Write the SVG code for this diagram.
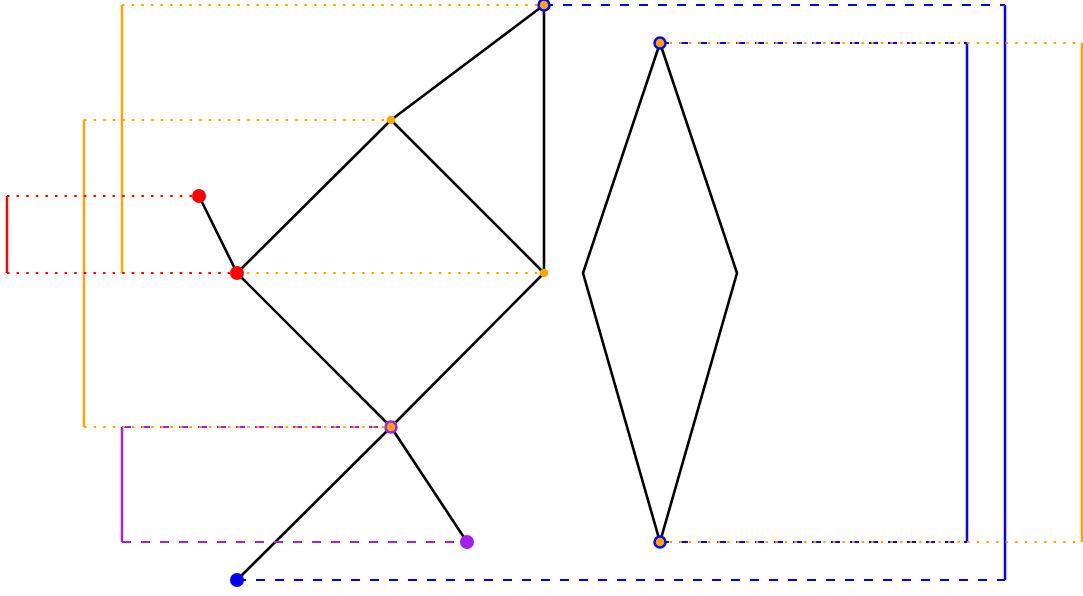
<svg xmlns="http://www.w3.org/2000/svg" width="1083" height="596" viewBox="0 0 1083 596">
<style>
.edge{stroke:#000;stroke-width:2.6;fill:none}
.or{stroke:#FFA500;stroke-width:2.5;fill:none}
.ord{stroke:#FFA500;stroke-width:2.2;stroke-dasharray:2.5,7.1;fill:none}
.rd{stroke:#FF0000;stroke-width:2.5;fill:none}
.rdd{stroke:#FF0000;stroke-width:2.2;stroke-dasharray:2.5,7.1;fill:none}
.bl{stroke:#0000FF;stroke-width:2.5;fill:none}
.bld{stroke:#0000FF;stroke-width:2.2;stroke-dasharray:9,10;fill:none}
.pu{stroke:#A020F0;stroke-width:2.5;fill:none}
.pud{stroke:#A020F0;stroke-width:2.2;stroke-dasharray:9,10;fill:none}
.nb{fill:#FFA500;stroke:#0000FF;stroke-width:2.5}
.np{fill:#FFA500;stroke:#A020F0;stroke-width:2.5}
</style>
<g id="connectors">
<path class="edge" d="M544,5L391,120M544,5L544,273M391,120L237,273M391,120L544,273M199,196L237,273M237,273L391,427M544,273L391,427M391,427L237,580M391,427L467,542"/>
<path class="edge" d="M660,43L737,273L660,542L583,273Z"/>
<path class="bld" d="M544,5H1005M237,580H1005"/>
<path class="bl" d="M1005,5V580"/>
<path class="bld" d="M660,43H967M660,542H967"/>
<path class="bl" d="M967,43V542"/>
<path class="ord" d="M660,43H1082M660,542H1082"/>
<path class="or" d="M1082,43V542"/>
<path class="pud" d="M122,427H391M122,542H467"/>
<path class="pu" d="M122,427V542"/>
<path class="ord" d="M122,5H544M122,273H544"/>
<path class="or" d="M122,5V273"/>
<path class="ord" d="M84,120H391M84,427H391"/>
<path class="or" d="M84,120V427"/>
<path class="rdd" d="M7,196H199M7,273H237"/>
<path class="rd" d="M7,196V273"/>
</g>
<g id="nA"><circle class="nb" cx="544" cy="5" r="5.5"/></g>
<g id="nB"><circle class="nb" cx="660" cy="43" r="5.5"/></g>
<g id="nC"><circle cx="391" cy="120" r="4.3" fill="#FFA500"/></g>
<g id="nD"><circle cx="199" cy="196" r="7" fill="#FF0000"/></g>
<g id="nE"><circle cx="237" cy="273" r="7" fill="#FF0000"/></g>
<g id="nF"><circle cx="544" cy="273" r="4.3" fill="#FFA500"/></g>
<g id="nG"><circle class="np" cx="391" cy="427" r="5.5"/></g>
<g id="nH"><circle cx="467" cy="542" r="7" fill="#A020F0"/></g>
<g id="nI"><circle class="nb" cx="660" cy="542" r="5.5"/></g>
<g id="nJ"><circle cx="237" cy="580" r="7" fill="#0000FF"/></g>
</svg>
